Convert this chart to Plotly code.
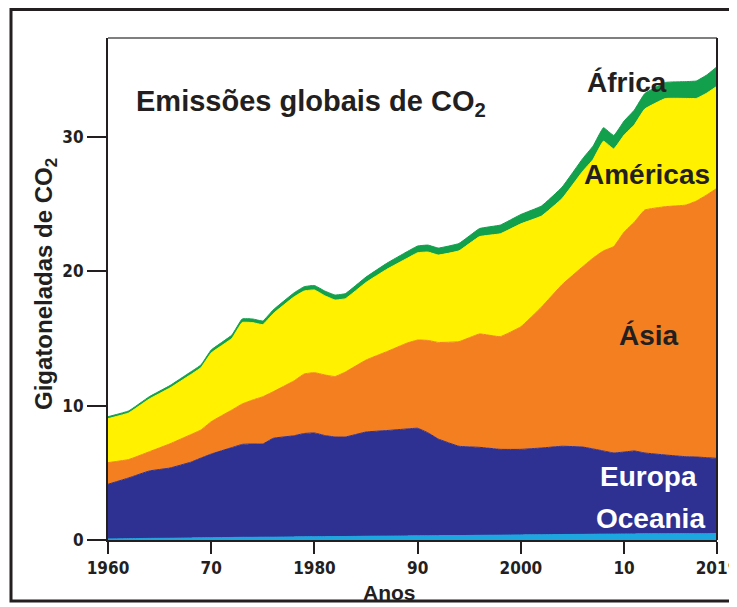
import plotly.graph_objects as go

# ---------------- data (Gt CO2) ----------------
years = [1960, 1962, 1964, 1966, 1968, 1969, 1970, 1972, 1973, 1974, 1975, 1976,
         1978, 1979, 1980, 1981, 1982, 1983, 1985, 1987, 1989, 1990, 1991, 1992,
         1994, 1996, 1998, 2000, 2002, 2004, 2006, 2007, 2008, 2009, 2010, 2011,
         2012, 2014, 2016, 2017, 2018, 2019]

oceania = [0.08, 0.10, 0.12, 0.13, 0.15, 0.16, 0.17, 0.19, 0.20, 0.20, 0.21, 0.21,
           0.23, 0.24, 0.25, 0.25, 0.26, 0.26, 0.28, 0.29, 0.30, 0.31, 0.31, 0.32,
           0.33, 0.35, 0.36, 0.38, 0.39, 0.41, 0.42, 0.43, 0.44, 0.44, 0.45, 0.45,
           0.46, 0.46, 0.47, 0.47, 0.47, 0.48]

europa = [4.07, 4.52, 5.02, 5.23, 5.64, 5.94, 6.23, 6.69, 6.92, 6.95, 6.94, 7.36,
          7.53, 7.69, 7.72, 7.53, 7.41, 7.41, 7.76, 7.86, 7.97, 8.01, 7.67, 7.20,
          6.65, 6.55, 6.39, 6.37, 6.46, 6.57, 6.50, 6.35, 6.19, 6.04, 6.10, 6.18,
          6.02, 5.87, 5.73, 5.71, 5.66, 5.60]

asia = [1.61, 1.37, 1.43, 1.80, 2.05, 2.09, 2.41, 2.80, 3.01, 3.27, 3.52, 3.47,
        4.08, 4.43, 4.49, 4.51, 4.50, 4.84, 5.36, 5.87, 6.40, 6.57, 6.88, 7.19,
        7.79, 8.44, 8.39, 9.13, 10.50, 12.04, 13.44, 14.22, 14.90, 15.37, 16.38, 17.05,
        18.09, 18.49, 18.74, 19.06, 19.56, 20.11]

americas = [3.27, 3.47, 3.93, 4.16, 4.47, 4.64, 5.12, 5.33, 6.07, 5.77, 5.37, 5.81,
            6.25, 6.18, 6.16, 5.90, 5.70, 5.46, 5.78, 6.13, 6.31, 6.50, 6.58, 6.51,
            6.76, 7.25, 7.66, 7.66, 6.77, 6.41, 7.10, 7.34, 8.17, 7.27, 7.22, 7.24,
            7.52, 8.05, 7.94, 7.64, 7.58, 7.60]

africa = [0.15, 0.15, 0.17, 0.18, 0.20, 0.20, 0.22, 0.25, 0.26, 0.27, 0.27, 0.28,
          0.30, 0.32, 0.33, 0.35, 0.37, 0.38, 0.40, 0.45, 0.50, 0.50, 0.52, 0.52,
          0.55, 0.60, 0.65, 0.70, 0.75, 0.85, 0.95, 1.00, 1.00, 1.00, 1.05, 1.10,
          1.15, 1.20, 1.25, 1.30, 1.35, 1.45]

x_tick_values = [1960, 1970, 1980, 1990, 2000, 2010, 2019]
x_tick_labels = ["1960", "70", "1980", "90", "2000", "10", "2019"]
y_tick_values = [0, 10, 20, 30]

# ---------------- figure ----------------
PAGE_OFF = 8                     # default body margin of the written page
W, H = 737, 607 - PAGE_OFF
L, R, T, B = 108, 717, 38, 540   # plot area, page pixels


def px(x):
    return (x - L) / (R - L)


def py(y):
    return (B - y) / (B - T)


series = [
    ("Oceania", oceania, "#1CA7E0"),
    ("Europa", europa, "#2E3192"),
    ("Ásia", asia, "#F37F21"),
    ("Américas", americas, "#FFF100"),
    ("África", africa, "#13A04C"),
]

fig = go.Figure()
for name, vals, col in series:
    fig.add_trace(go.Scatter(
        x=years, y=vals, name=name, stackgroup="one", mode="lines",
        line=dict(color=col, width=1, shape="spline", smoothing=0.3),
        fillcolor=col, hoverinfo="skip",
    ))

tick_font = dict(family="DejaVu Sans Condensed, Liberation Sans Narrow, Arial Narrow, Liberation Sans",
                 size=17, color="#231F20", weight="bold")
bold = "Liberation Sans, Arial, Helvetica, sans-serif"

fig.update_layout(
    width=W, height=H,
    margin=dict(l=L - PAGE_OFF, r=W - (R - PAGE_OFF), t=T - PAGE_OFF, b=H - (B - PAGE_OFF), pad=0),
    paper_bgcolor="white", plot_bgcolor="white",
    showlegend=False,
    xaxis=dict(range=[1960, 2019], tickvals=x_tick_values, ticktext=x_tick_labels,
               ticks="outside", ticklen=12, tickwidth=1.5, tickcolor="#231F20",
               showline=True, linecolor="#231F20", linewidth=2,
               ticklabeloverflow="allow", automargin=False,
               showgrid=False, zeroline=False, tickfont=tick_font, fixedrange=True),
    yaxis=dict(range=[0, (B - T) / 13.43], tickvals=y_tick_values,
               ticks="outside", ticklen=19, tickwidth=1.5, tickcolor="#231F20",
               showline=True, linecolor="#231F20", linewidth=2, automargin=False,
               showgrid=False, zeroline=False, tickfont=tick_font, fixedrange=True),
)

# outer frame and plot-area border
fig.add_shape(type="rect", xref="paper", yref="paper",
              x0=px(11), x1=px(760), y0=py(601), y1=py(9.5),
              line=dict(color="#231F20", width=3), layer="below")
fig.add_shape(type="line", xref="paper", yref="paper", x0=0, x1=1, y0=1, y1=1,
              line=dict(color="#555555", width=1.5))
fig.add_shape(type="line", xref="paper", yref="paper", x0=1, x1=1, y0=0, y1=1,
              line=dict(color="#231F20", width=2))


def label(text, x, y, size, color="#231F20", anchor="center", angle=0, family=bold):
    fig.add_annotation(text=text, x=px(x), y=py(y), xref="paper", yref="paper",
                       xanchor=anchor, yanchor="middle", showarrow=False, textangle=angle,
                       font=dict(family=family, size=size, color=color, weight="bold"))


label("Emissões globais de CO<sub>2</sub>", 134, 103, 29, anchor="left")
label("Gigatoneladas de CO<sub>2</sub>", 45, 284, 24, angle=-90)
label("Anos", 389, 592, 21)
label("África", 627, 82, 28)
label("Américas", 647, 174, 28)
label("Ásia", 649, 336, 28)
label("Europa", 648, 476, 28, color="white")
label("Oceania", 650, 518, 28, color="white")

fig.write_html("out.html")
